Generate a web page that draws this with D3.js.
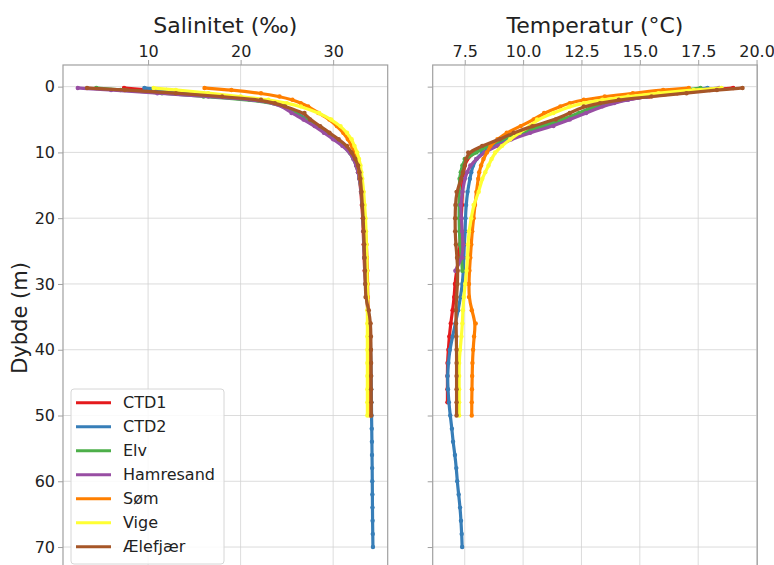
<!DOCTYPE html>
<html>
<head>
    <meta charset="utf-8">
    <title>Salinitet og temperatur</title>
    <style>
        body{ margin: 0; background: #fff; }
        svg{ font-family: "DejaVu Sans", sans-serif; }
        .grid line{ stroke: #d3d3d3; stroke-width: 0.8px; }
        .frame{ fill: none; stroke: #a0a0a0; stroke-width: 1.2px; }
    </style>
    <script src="https://cdn.jsdelivr.net/npm/d3@7"></script>
</head>
<body>
<svg width="774" height="565"></svg>
<script>
    // depth grid (m), each station uses the first n values
    const depthGrid = [0.2,0.5,1,1.5,2,2.5,3,4,5,6,7,8,9,10,11,12,13,14,16,18,20,22,24,26,28,30,32,34,36,38,40,42,44,46,48,50,52,54,56,58,60,62,64,66,68,70]

    const stations = ["CTD1","CTD2","Elv","Hamresand","Søm","Vige","Ælefjær"]
    const colors = ["#e41a1c","#377eb8","#4daf4a","#984ea3","#ff7f00","#ffff33","#a65628"]

    // salinity (‰)
    const salCTD1 = [7.4,10.0,13.5,17.5,21.5,23.8,24.8,25.9,27.2,28.3,29.3,30.3,31.2,31.9,32.3,32.5,32.7,32.85,33.0,33.1,33.2,33.25,33.3,33.35,33.4,33.5,33.6,33.75,33.9,34.0,34.02,34.05,34.05,34.06,34.06]
    const salCTD2 = [9.6,12.0,15.0,18.5,21.8,23.8,24.8,26.0,27.2,28.4,29.4,30.4,31.2,31.9,32.3,32.55,32.75,32.9,33.05,33.15,33.25,33.3,33.35,33.4,33.45,33.5,33.6,33.8,33.95,34.02,34.05,34.08,34.1,34.12,34.14,34.15,34.17,34.19,34.2,34.22,34.23,34.24,34.25,34.26,34.28,34.3]
    const salElv = [4.4,7.0,11.5,16.0,21.0,23.5,24.7,25.8,27.0,28.2,29.2,30.2,31.1,31.8,32.2,32.5,32.7,32.85,33.05,33.15,33.25,33.3,33.35,33.4,33.45]
    const salHamresand = [2.4,6.0,11.0,16.5,21.5,23.5,24.5,25.5,26.8,28.0,29.0,30.0,31.0,31.8,32.2,32.5,32.7,32.85,33.05,33.15,33.25,33.3,33.35,33.4,33.45]
    const salSom = [16.1,19.0,22.2,24.2,25.6,26.5,27.3,28.4,29.6,30.4,31.1,31.6,32.0,32.3,32.5,32.7,32.85,32.95,33.15,33.3,33.4,33.5,33.6,33.65,33.7,33.72,33.75,33.8,33.85,33.9,33.92,33.95,33.97,34.0,34.0,34.0]
    const salVige = [10.6,13.0,16.5,20.0,23.0,25.0,26.5,28.5,29.8,30.8,31.5,32.0,32.3,32.6,32.8,32.95,33.05,33.15,33.3,33.4,33.5,33.55,33.6,33.62,33.65,33.67,33.7,33.7,33.7,33.7,33.7,33.7,33.7,33.7,33.7,33.7]
    const salAelefjaer = [3.4,7.5,13.0,18.0,22.2,23.7,24.8,26.9,27.5,28.6,29.6,30.6,31.5,32.0,32.4,32.7,32.85,32.95,33.07,33.15,33.25,33.3,33.36,33.4,33.45,33.48,33.5,33.85,34.05,34.08,34.08,34.1,34.1,34.1,34.12,34.12]

    // temperature (°C)
    const tempCTD1 = [19.0,18.0,16.6,15.4,14.4,13.7,13.2,12.5,11.8,10.9,10.0,9.2,8.5,7.9,7.6,7.5,7.45,7.42,7.4,7.38,7.35,7.32,7.3,7.25,7.15,7.08,7.05,6.98,6.9,6.84,6.8,6.76,6.76,6.76,6.76]
    const tempCTD2 = [17.9,17.2,16.3,15.3,14.4,13.8,13.3,12.6,11.9,11.0,10.1,9.3,8.7,8.25,8.0,7.85,7.78,7.72,7.62,7.56,7.53,7.52,7.48,7.46,7.44,7.4,7.32,7.22,7.1,6.98,6.86,6.8,6.76,6.78,6.82,6.88,6.95,7.0,7.08,7.14,7.18,7.24,7.3,7.34,7.37,7.39]
    const tempElv = [17.6,17.0,16.0,15.0,14.1,13.5,13.0,12.4,11.7,10.8,9.9,9.1,8.5,8.0,7.5,7.4,7.33,7.28,7.26,7.26,7.26,7.27,7.3,7.36,7.4]
    const tempHamresand = [18.4,17.5,16.3,15.3,14.5,13.9,13.4,12.7,12.0,11.3,10.3,9.5,8.9,8.35,8.0,7.74,7.6,7.5,7.4,7.32,7.36,7.39,7.44,7.4,7.1]
    const tempSom = [17.1,16.0,14.7,13.5,12.6,12.0,11.6,10.9,10.45,9.9,9.3,8.9,8.6,8.45,8.3,8.2,8.12,8.08,8.0,7.94,7.88,7.82,7.78,7.74,7.7,7.68,7.68,7.8,7.97,7.9,7.86,7.83,7.82,7.81,7.8,7.8]
    const tempVige = [18.5,17.3,15.8,14.5,13.4,12.6,12.0,11.3,10.6,10.3,9.85,9.45,9.1,8.8,8.65,8.52,8.38,8.25,8.1,7.88,7.78,7.68,7.64,7.62,7.58,7.52,7.46,7.42,7.4,7.36,7.3,7.26,7.26,7.26,7.26,7.26]
    const tempAelefjaer = [19.4,18.3,17.0,15.5,14.1,13.3,12.6,12.0,11.4,10.4,9.6,9.0,8.25,7.65,7.55,7.5,7.42,7.35,7.15,7.1,7.09,7.09,7.12,7.17,7.2,7.19,7.15,7.12,7.13,7.14,7.15,7.15,7.15,7.15,7.15,7.15]

    const salTicks = [10,20,30]
    const tempTicks = [7.5,10,12.5,15,17.5,20]
    const depthTicks = [0,10,20,30,40,50,60,70]

    const salAll = [salCTD1,salCTD2,salElv,salHamresand,salSom,salVige,salAelefjaer]
    const tempAll = [tempCTD1,tempCTD2,tempElv,tempHamresand,tempSom,tempVige,tempAelefjaer]

    const svg = d3.select("svg")

    // matplotlib style 5% margins
    function padded(ext){
        const r = ext[1]-ext[0]
        return [ext[0]-0.05*r, ext[1]+0.05*r]
    }

    const y = d3.scaleLinear()
        .domain(padded([depthGrid[0], d3.max(salAll, a=>depthGrid[a.length-1])]))
        .range([65, 570])

    const panels = [
        {title: "Salinitet (‰)", data: salAll, ticks: salTicks, fmt: d3.format("d"), x0: 63, x1: 387.7, labels: true},
        {title: "Temperatur (°C)", data: tempAll, ticks: tempTicks, fmt: d3.format(".1f"), x0: 432.7, x1: 757.3, labels: false}
    ]

    panels.forEach(p=>{
        const x = d3.scaleLinear()
            .domain(padded([d3.min(p.data, a=>d3.min(a)), d3.max(p.data, a=>d3.max(a))]))
            .range([p.x0, p.x1])

        const g = svg.append("g")

        // grid
        const grid = g.append("g").attr("class","grid")
        grid.selectAll(".vx").data(p.ticks).enter().append("line")
            .attr("x1", d=>x(d)).attr("x2", d=>x(d))
            .attr("y1", y.range()[0]).attr("y2", y.range()[1])
        grid.selectAll(".hy").data(depthTicks).enter().append("line")
            .attr("y1", d=>y(d)).attr("y2", d=>y(d))
            .attr("x1", p.x0).attr("x2", p.x1)

        // top axis
        const xAxis = d3.axisTop(x).tickValues(p.ticks).tickFormat(p.fmt).tickSize(5).tickPadding(3)
        const ax = g.append("g").attr("transform",`translate(0,${y.range()[0]})`).call(xAxis)
        ax.select(".domain").remove()
        ax.selectAll("line").attr("stroke","#a0a0a0")
        ax.selectAll("text").attr("font-size","16px").attr("fill","#222").attr("font-family","DejaVu Sans")

        // left axis
        const yAxis = d3.axisLeft(y).tickValues(depthTicks).tickSize(5).tickPadding(3)
            .tickFormat(p.labels ? d3.format("d") : "")
        const ay = g.append("g").attr("transform",`translate(${p.x0},0)`).call(yAxis)
        ay.select(".domain").remove()
        ay.selectAll("line").attr("stroke","#a0a0a0")
        ay.selectAll("text").attr("font-size","16px").attr("fill","#222").attr("font-family","DejaVu Sans")

        // profiles
        const clip = "clip" + p.x0
        svg.append("clipPath").attr("id", clip).append("rect")
            .attr("x", p.x0).attr("y", y.range()[0]).attr("width", p.x1-p.x0).attr("height", y.range()[1]-y.range()[0])
        const plot = g.append("g").attr("clip-path", `url(#${clip})`)
        const line = d3.line().x(d=>x(d.v)).y(d=>y(d.d)).curve(d3.curveBasis)

        p.data.forEach((vals, i)=>{
            const pts = vals.map((v,j)=>({v: v, d: depthGrid[j]}))
            plot.append("g").selectAll("circle").data(pts).enter().append("circle")
                .attr("cx", d=>x(d.v)).attr("cy", d=>y(d.d)).attr("r", 2.2)
                .attr("fill", colors[i])
            plot.append("path").datum(pts)
                .attr("d", line)
                .attr("fill","none").attr("stroke", colors[i]).attr("stroke-width", 3.2)
                .attr("stroke-linejoin","round").attr("stroke-linecap","round")
        })

        g.append("rect").attr("class","frame")
            .attr("x", p.x0).attr("y", y.range()[0])
            .attr("width", p.x1-p.x0).attr("height", y.range()[1]-y.range()[0])

        g.append("text").attr("x", (p.x0+p.x1)/2).attr("y", 33)
            .attr("text-anchor","middle").attr("font-size","22px").attr("fill","#222")
            .text(p.title)
    })

    svg.append("text")
        .attr("transform","translate(27,318) rotate(-90)")
        .attr("text-anchor","middle").attr("font-size","21px").attr("fill","#222")
        .text("Dybde (m)")

    // legend
    const lg = svg.append("g")
    lg.append("rect").attr("x",71).attr("y",389).attr("width",153).attr("height",175)
        .attr("rx",3).attr("fill","#fff").attr("fill-opacity",0.85).attr("stroke","#d6d6d6")
    const items = lg.selectAll(".item").data(stations).enter().append("g")
        .attr("transform",(d,i)=>`translate(0,${402.7+24*i})`)
    items.append("line").attr("x1",76).attr("x2",111)
        .attr("stroke",(d,i)=>colors[i]).attr("stroke-width",3)
    items.append("text").attr("x",123).attr("dy","0.35em")
        .attr("font-size","16px").attr("fill","#222").text(d=>d)
</script>
</body>
</html>
